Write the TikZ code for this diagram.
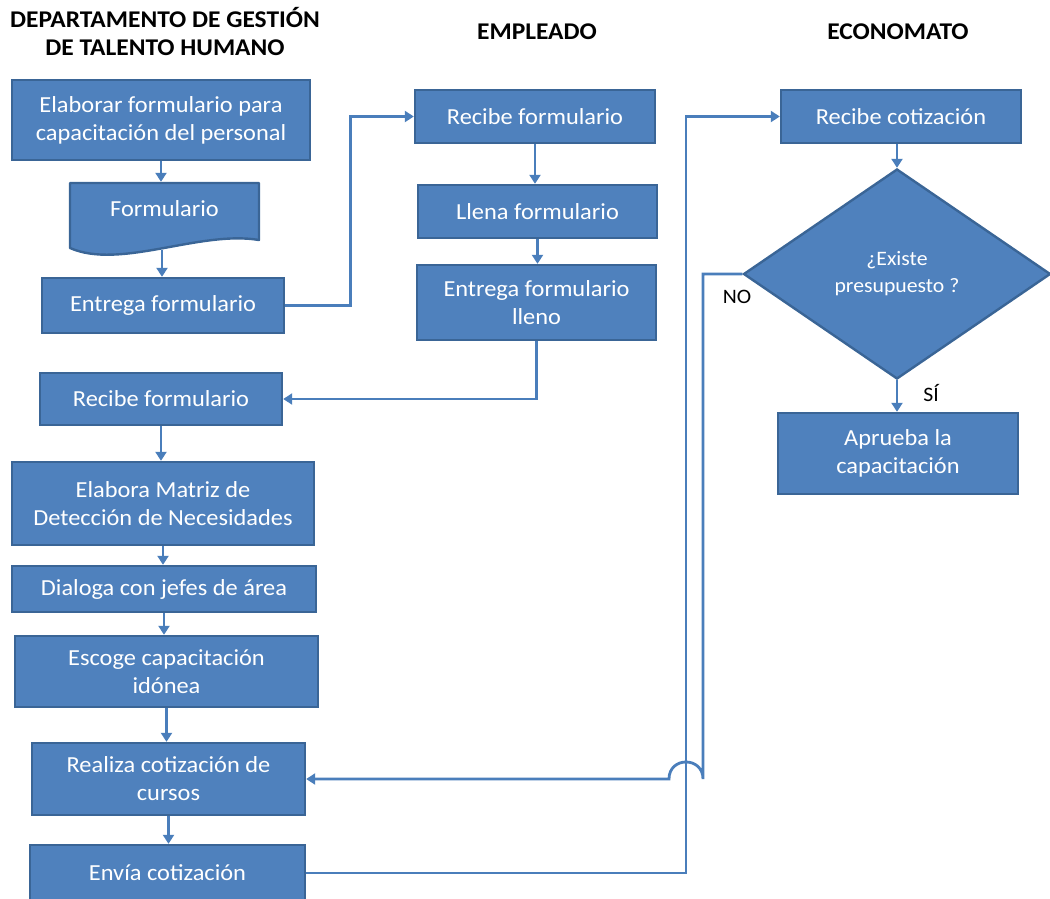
\documentclass[tikz,border=0pt]{standalone}
\usepackage{fontspec}
\setmainfont{Carlito}[FakeStretch=1.06]
\usetikzlibrary{arrows.meta,shapes.geometric}
\definecolor{boxblue}{HTML}{4F81BD}
\definecolor{boxedge}{HTML}{3A6596}
\definecolor{linkblue}{HTML}{4A7EBB}

\begin{document}
\begin{tikzpicture}[x=1pt,y=-1pt,
  proc/.style={rectangle, draw=boxedge, fill=boxblue, line width=2.4pt, text=white,
    font=\fontsize{23}{28}\selectfont, align=center, inner sep=0pt},
  head/.style={font=\bfseries\fontsize{24}{28}\selectfont, align=center},
  link/.style={draw=linkblue, line width=2.8pt, -{Triangle[length=9pt,width=11pt]}},
  lbl/.style={font=\fontsize{20.5}{22}\selectfont}
]
\useasboundingbox (0,0) rectangle (1050,898);

% column headings
\node[head] (h1) at (165,32) {DEPARTAMENTO DE GESTIÓN\\DE TALENTO HUMANO};
\node[head] (h2) at (537,32) {EMPLEADO};
\node[head] (h3) at (898,32) {ECONOMATO};

% Departamento de Gestión de Talento Humano
\node[proc, minimum width=298pt, minimum height=80pt] (e1) at (161,120)
  {Elaborar formulario para\\capacitación del personal};

% document shape with a wavy lower edge
\fill[boxblue] (70,183) -- (259,183) -- (259,240)
  .. controls (200,230) and (120,270) .. (70,248) -- cycle;
\draw[boxedge, line width=2.4pt, line join=round] (70,183) -- (259,183) -- (259,240)
  .. controls (200,230) and (120,270) .. (70,248) -- cycle;
\node[proc, draw=none, fill=none, minimum width=189pt, minimum height=52pt] (f) at (164.5,209) {Formulario};
\coordinate (fb) at (162,250);

\node[proc, minimum width=242pt, minimum height=55pt] (e3) at (163,305.5) {Entrega formulario};
\node[proc, minimum width=242pt, minimum height=52pt] (r4) at (161,399) {Recibe formulario};
\node[proc, minimum width=302pt, minimum height=83pt] (e5) at (163,503.5)
  {Elabora Matriz de\\Detección de Necesidades};
\node[proc, minimum width=304pt, minimum height=46pt] (e6) at (164,589) {Dialoga con jefes de área};
\node[proc, minimum width=303pt, minimum height=71pt] (e7) at (166.5,671.5)
  {Escoge capacitación\\idónea};
\node[proc, minimum width=273pt, minimum height=72pt] (e8) at (168.5,779)
  {Realiza cotización de\\cursos};
\node[proc, minimum width=275pt, minimum height=56pt] (e9) at (167.5,873) {Envía cotización};

% Empleado
\node[proc, minimum width=240pt, minimum height=53pt] (m1) at (535,116.5) {Recibe formulario};
\node[proc, minimum width=239pt, minimum height=53pt] (m2) at (537.5,211.5) {Llena formulario};
\node[proc, minimum width=239pt, minimum height=75pt] (m3) at (536.5,302.5)
  {Entrega formulario\\lleno};

% Economato
\node[proc, minimum width=240pt, minimum height=53pt] (c1) at (901,116.5) {Recibe cotización};
\node[diamond, draw=boxedge, fill=boxblue, line width=2.4pt, inner sep=0pt, text=white,
  minimum width=307pt, minimum height=210pt, align=center,
  font=\fontsize{20.5}{27}\selectfont] (dia) at (897,274) {¿Existe\\presupuesto ?};
\node[proc, minimum width=240pt, minimum height=81pt] (c2) at (898,453.5)
  {Aprueba la\\capacitación};

\node[lbl] (no) at (737,297) {NO};
\node[lbl] (si) at (931,393) {SÍ};

% connectors
\draw[link] (e1.south) -- (e1.south |- f.north);
\draw[link] (fb) -- (fb |- e3.north);
\draw[link] (e3.east) -- ++(65,0) |- (m1.west);
\draw[link] (m1.south) -- (m1.south |- m2.north);
\draw[link] (m2.south) -- (m2.south |- m3.north);
\draw[link] (m3.south) |- (r4.east);
\draw[link] (r4.south) -- (r4.south |- e5.north);
\draw[link] (e5.south) -- (e5.south |- e6.north);
\draw[link] (e6.south) -- (e6.south |- e7.north);
\draw[link] (e7.south) -- (e7.south |- e8.north);
\draw[link] (e8.south) -- (e8.south |- e9.north);

\coordinate (bus) at (686,116.5);
\draw[link] (e9.east) -| (bus) -- (c1.west);
\draw[link] (c1.south -| dia.north) -- (dia.north);
\draw[link] (dia.south) -- (dia.south |- c2.north);

% "NO" branch, hopping over the vertical line
\coordinate (hop) at (703,779);
\draw[link] (dia.west) -| (hop)
  .. controls (703,756.3) and (669,756.3) .. (669,779) -- (e8.east);
\end{tikzpicture}
\end{document}
